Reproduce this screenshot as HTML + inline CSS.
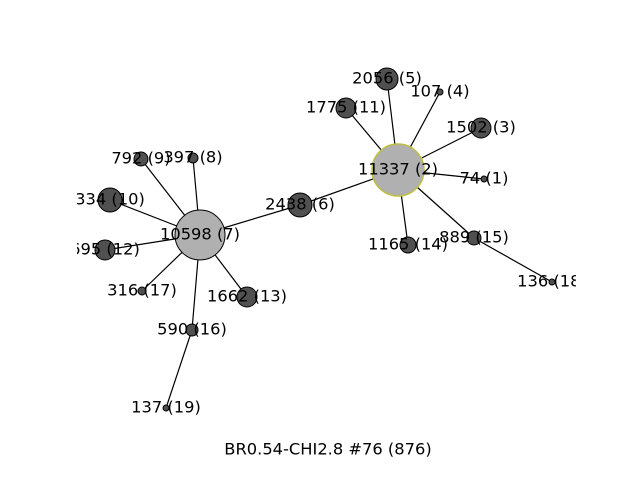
<!DOCTYPE html>
<html><head><meta charset="utf-8"><style>html,body{margin:0;padding:0;background:#fff}svg{display:block}</style></head>
<body>
<svg width="640" height="480" viewBox="0 0 640 480" xmlns="http://www.w3.org/2000/svg" font-family="DejaVu Sans, Liberation Sans, sans-serif" font-size="16.3">
<defs><clipPath id="c"><rect x="77" y="58" width="499" height="370"/></clipPath></defs>
<rect width="640" height="480" fill="#fff"/>
<g clip-path="url(#c)">
<g stroke="#000" stroke-width="1.2">
<line x1="398" y1="170" x2="300" y2="205"/>
<line x1="398" y1="170" x2="387" y2="79"/>
<line x1="398" y1="170" x2="440" y2="92"/>
<line x1="398" y1="170" x2="346" y2="108"/>
<line x1="398" y1="170" x2="481" y2="128"/>
<line x1="398" y1="170" x2="484" y2="179"/>
<line x1="398" y1="170" x2="474" y2="238"/>
<line x1="398" y1="170" x2="408" y2="245"/>
<line x1="474" y1="238" x2="552" y2="282"/>
<line x1="200" y1="235" x2="300" y2="205"/>
<line x1="200" y1="235" x2="141" y2="159"/>
<line x1="200" y1="235" x2="193" y2="158"/>
<line x1="200" y1="235" x2="110" y2="200"/>
<line x1="200" y1="235" x2="105" y2="250"/>
<line x1="200" y1="235" x2="142" y2="291"/>
<line x1="200" y1="235" x2="247" y2="297"/>
<line x1="200" y1="235" x2="192" y2="330"/>
<line x1="192" y1="330" x2="166" y2="408"/>
</g>
<g fill="#505050" stroke="#000" stroke-width="1">
<circle cx="300" cy="205" r="12"/>
<circle cx="387" cy="79" r="11"/>
<circle cx="440" cy="92" r="3"/>
<circle cx="346" cy="108" r="10"/>
<circle cx="481" cy="128" r="10"/>
<circle cx="484" cy="179" r="3"/>
<circle cx="474" cy="238" r="7"/>
<circle cx="552" cy="282" r="3"/>
<circle cx="408" cy="245" r="8"/>
<circle cx="141" cy="159" r="7"/>
<circle cx="193" cy="158" r="5"/>
<circle cx="110" cy="200" r="12"/>
<circle cx="105" cy="250" r="10"/>
<circle cx="142" cy="291" r="4"/>
<circle cx="247" cy="297" r="10"/>
<circle cx="192" cy="330" r="6"/>
<circle cx="166" cy="408" r="3"/>
</g>
<circle cx="398" cy="170" r="26" fill="#b0b0b0" stroke="#bfbf3f" stroke-width="1.5"/>
<circle cx="200" cy="235" r="25" fill="#b0b0b0" stroke="#000" stroke-width="1"/>
<g fill="#000" text-anchor="middle" dominant-baseline="central">
<text x="398" y="169">11337 (2)</text>
<text x="200" y="234">10598 (7)</text>
<text x="300" y="204">2438 (6)</text>
<text x="387" y="78">2056 (5)</text>
<text x="440" y="91">107 (4)</text>
<text x="346" y="107">1775 (11)</text>
<text x="481" y="127">1502 (3)</text>
<text x="484" y="178">74 (1)</text>
<text x="474" y="237">889 (15)</text>
<text x="552" y="281">136 (18)</text>
<text x="408" y="244">1165 (14)</text>
<text x="141" y="158">792 (9)</text>
<text x="193" y="157">397 (8)</text>
<text x="110" y="199">334 (10)</text>
<text x="105" y="249">695 (12)</text>
<text x="142" y="290">316 (17)</text>
<text x="247" y="296">1662 (13)</text>
<text x="192" y="329">590 (16)</text>
<text x="166" y="407">137 (19)</text>
</g>
</g>
<text x="328" y="449" text-anchor="middle" dominant-baseline="central" fill="#000">BR0.54-CHI2.8 #76 (876)</text>
</svg>
</body></html>
